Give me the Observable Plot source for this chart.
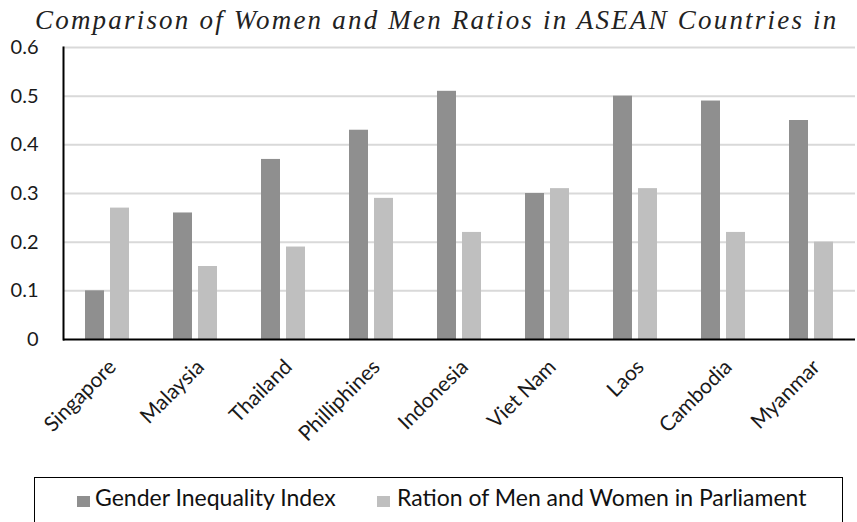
<!DOCTYPE html>
<html>
<head>
<meta charset="utf-8">
<script src="https://cdn.jsdelivr.net/npm/d3@7"></script>
<script src="https://cdn.jsdelivr.net/npm/@observablehq/plot@0.6"></script>
<style>
  html, body { margin: 0; padding: 0; background: #fff; }
  #wrap { position: relative; width: 857px; height: 522px; overflow: hidden; background: #fff; }
  #title { position: absolute; left: 35px; top: 7px; font-family: "Liberation Serif", serif; font-style: italic; font-size: 27px; line-height: 27px; letter-spacing: 2.2px; color: #222; white-space: nowrap; }
  #chart { position: absolute; left: 0; top: 31px; }
  #legend { position: absolute; left: 34px; top: 477px; width: 807px; height: 70px; border: 1.5px solid #000; }
  .sw { position: absolute; top: 18px; width: 13px; height: 11px; }
  .lt { position: absolute; top: 8px; font-family: Lato, "Open Sans", sans-serif; font-size: 23px; line-height: 23px; color: #111; white-space: nowrap; }
</style>
</head>
<body>
<div id="wrap">
  <div id="title">Comparison of Women and Men Ratios in ASEAN Countries in</div>
  <div id="chart"></div>
  <div id="legend"></div>
</div>
<script>
const countries = ["Singapore", "Malaysia", "Thailand", "Philliphines", "Indonesia", "Viet Nam", "Laos", "Cambodia", "Myanmar"];
const genderInequality = [0.10, 0.26, 0.37, 0.43, 0.51, 0.30, 0.50, 0.49, 0.45];
const parliamentRatio = [0.27, 0.15, 0.19, 0.29, 0.22, 0.31, 0.31, 0.22, 0.20];
const yTicks = [0, 0.1, 0.2, 0.3, 0.4, 0.5, 0.6];
const yTickLabels = ["0", "0.1", "0.2", "0.3", "0.4", "0.5", "0.6"];
const seriesNames = ["Gender Inequality Index", "Ration of Men and Women in Parliament"];
const seriesColors = ["#8f8f8f", "#bfbfbf"];

const rows = countries.map((c, i) => ({country: c, gii: genderInequality[i], parl: parliamentRatio[i]}));
const labelOf = new Map(yTicks.map((t, i) => [t, yTickLabels[i]]));

const chart = Plot.plot({
  width: 857,
  height: 440,
  marginTop: 16,
  marginBottom: 132,
  marginLeft: 63,
  marginRight: 2,
  style: {fontFamily: "Lato, 'Open Sans', sans-serif", color: "#1a1a1a", background: "transparent"},
  x: {domain: countries, paddingInner: 0.5, paddingOuter: 0.25, label: null},
  y: {domain: [0, 0.6], label: null},
  marks: [
    Plot.ruleY(yTicks.slice(1), {stroke: "#d9d9d9", strokeWidth: 2}),
    Plot.barY(rows, {x: "country", y: "gii", fill: seriesColors[0], insetRight: 25}),
    Plot.barY(rows, {x: "country", y: "parl", fill: seriesColors[1], insetLeft: 25}),
    Plot.ruleY([0], {stroke: "#000", strokeWidth: 2}),
    Plot.frame({anchor: "left", stroke: "#000", strokeWidth: 2}),
    Plot.axisY({ticks: yTicks, tickFormat: d => labelOf.get(d), tickSize: 0, tickPadding: 25, fontSize: 20, label: null}),
    Plot.axisX({tickSize: 0, tickRotate: -45, tickPadding: 24, dx: 5, fontSize: 21, label: null})
  ]
});
document.getElementById("chart").appendChild(chart);

const legend = document.getElementById("legend");
const pos = [[42, 60], [342, 362]];
seriesNames.forEach((name, i) => {
  const sw = document.createElement("div");
  sw.className = "sw";
  sw.style.left = pos[i][0] + "px";
  sw.style.background = seriesColors[i];
  legend.appendChild(sw);
  const t = document.createElement("div");
  t.className = "lt";
  t.style.left = pos[i][1] + "px";
  t.textContent = name;
  legend.appendChild(t);
});
</script>
</body>
</html>
